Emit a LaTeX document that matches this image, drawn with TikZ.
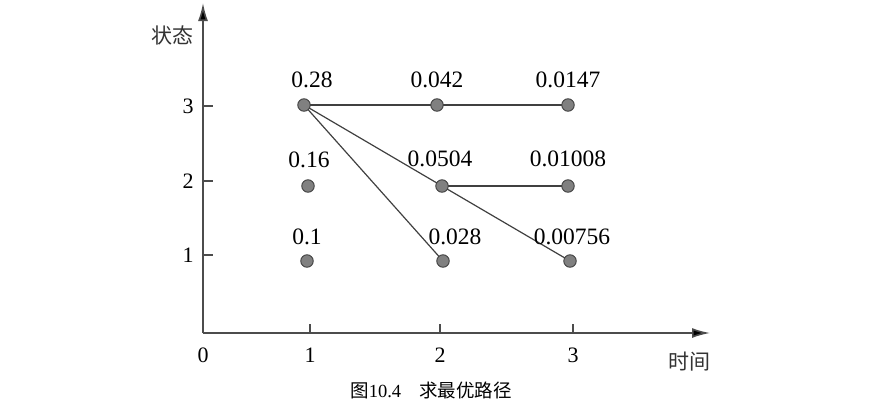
\documentclass[tikz,border=0pt]{standalone}
\usepackage{fontspec}
\setmainfont{Liberation Serif}
\newfontfamily\cjk{Noto Sans CJK SC}
\usetikzlibrary{arrows.meta,backgrounds}
\begin{document}
\begin{tikzpicture}[x=1pt,y=-1pt,
  axis/.style={draw=black!70,line width=1.6pt},
  tickl/.style={draw=black!70,line width=1.2pt},
  link/.style={draw=black!75,line width=1.2pt},
  dot/.style={circle,draw=black!75,fill=black!50,line width=0.9pt,inner sep=0pt,minimum size=12.5pt},
  val/.style={font=\fontsize{23.5}{26}\selectfont,inner sep=0pt},
  num/.style={font=\fontsize{22}{25}\selectfont,inner sep=0pt},
  cn/.style={font=\cjk\fontsize{21}{24}\selectfont,inner sep=0pt,text=black!80}]
\useasboundingbox (0,0) rectangle (870,410);
\coordinate (O) at (203,333);
\coordinate (ytop) at (203,3);
\coordinate (xend) at (710,333);
\draw[axis,-{Latex[length=18pt,width=10pt,fill=black]}] (O) -- (ytop);
\draw[axis,-{Latex[length=18pt,width=10pt,fill=black]}] (O) -- (xend);
% ticks
\foreach \n/\yy in {3/106,2/181,1/255}{
  \coordinate (yt\n) at (203,\yy);
  \coordinate (yt\n e) at (213,\yy);
  \draw[tickl] (yt\n) -- (yt\n e);
  \node[num] (yl\n) at (188,\yy) {\n};
}
\foreach \n/\xx in {1/310,2/440,3/573}{
  \coordinate (xt\n) at (\xx,333);
  \coordinate (xt\n e) at (\xx,324);
  \draw[tickl] (xt\n) -- (xt\n e);
  \node[num] (xl\n) at (\xx,355) {\n};
}
\node[num] (xl0) at (203,355) {0};
\node[cn] (ylab) at (172,35) {状态};
\node[cn] (xlab) at (689,362) {时间};
% dots
\node[dot] (a3) at (304,105) {};
\node[dot] (a2) at (308,186) {};
\node[dot] (a1) at (307,261) {};
\node[dot] (b3) at (437,105) {};
\node[dot] (b2) at (442,186) {};
\node[dot] (b1) at (443,261) {};
\node[dot] (c3) at (568,105) {};
\node[dot] (c2) at (568,186) {};
\node[dot] (c1) at (570,261) {};
% links
\begin{pgfonlayer}{background}
\draw[link] (a3.center) -- (b3.center);
\draw[link] (b3.center) -- (c3.center);
\draw[link] (a3.center) -- (b2.center);
\draw[link] (a3.center) -- (b1.center);
\draw[link] (b2.center) -- (c2.center);
\draw[link] (b2.center) -- (c1.center);
\end{pgfonlayer}
% values
\node[val] (va3) at (312,80) {0.28};
\node[val] (vb3) at (437,80) {0.042};
\node[val] (vc3) at (568,80) {0.0147};
\node[val] (va2) at (309,160) {0.16};
\node[val] (vb2) at (440,159) {0.0504};
\node[val] (vc2) at (568,159) {0.01008};
\node[val] (va1) at (307,237) {0.1};
\node[val] (vb1) at (455,237) {0.028};
\node[val] (vc1) at (572,237) {0.00756};
% caption
\node[font=\fontsize{18.5}{21}\selectfont,inner sep=0pt] (cap) at (431,390) {{\cjk 图}10.4\hspace{18pt}{\cjk 求最优路径}};
\end{tikzpicture}
\end{document}
